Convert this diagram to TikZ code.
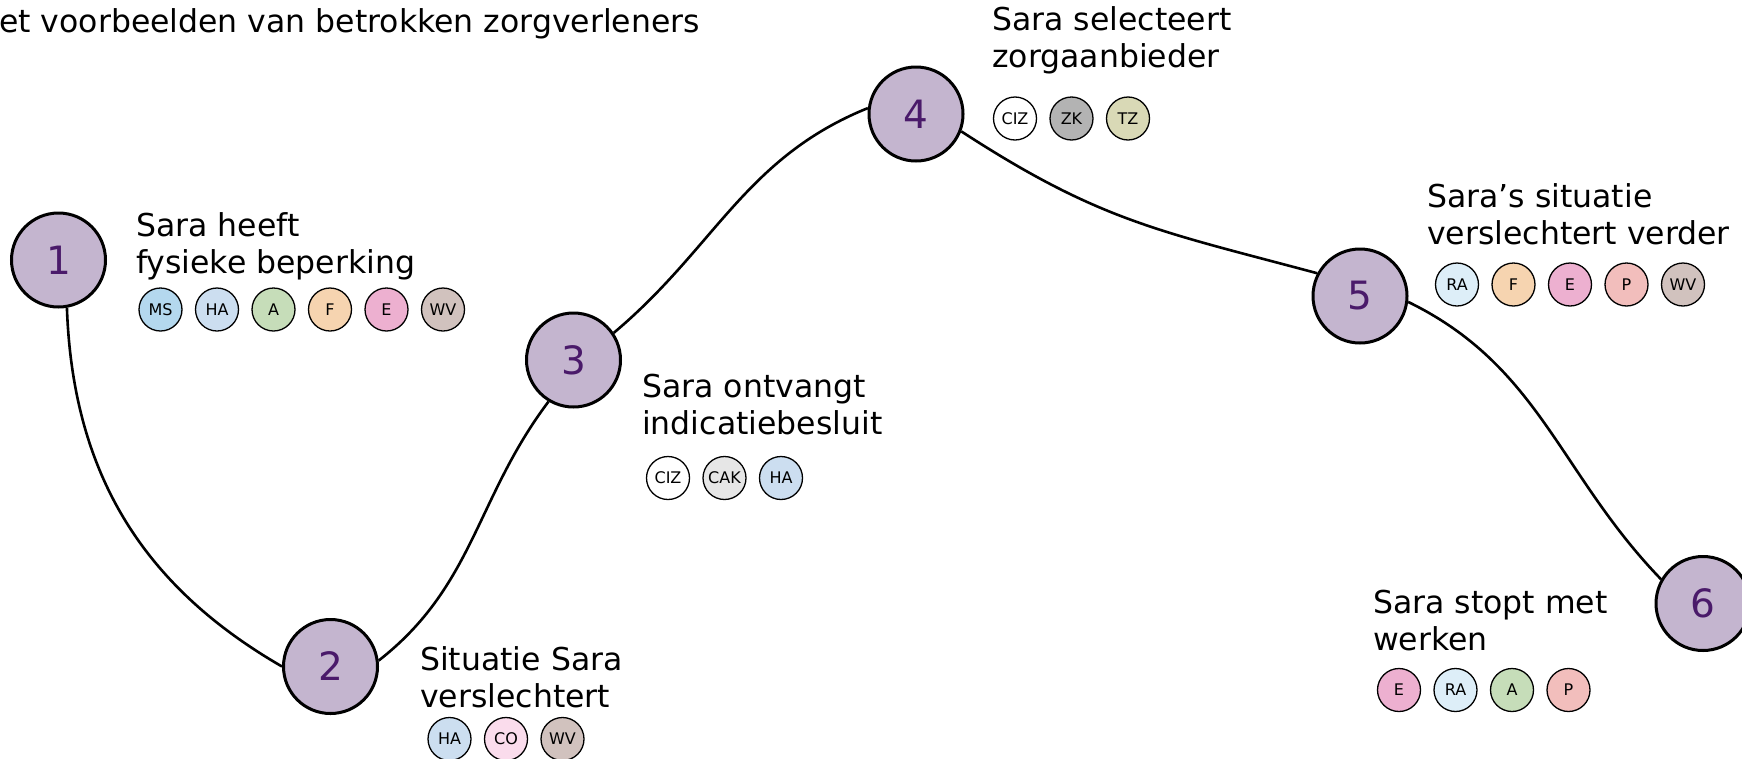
\documentclass[tikz,border=0pt]{standalone}
\usepackage{fontspec}
\setmainfont{DejaVu Sans}
\definecolor{stepfill}{HTML}{C4B5CF}
\definecolor{stepnum}{HTML}{4A1A6A}
\definecolor{cMS}{HTML}{B4D8EE}
\definecolor{cHA}{HTML}{CCDEF0}
\definecolor{cA}{HTML}{C6DDB9}
\definecolor{cF}{HTML}{F6D4B0}
\definecolor{cE}{HTML}{EDB0D0}
\definecolor{cWV}{HTML}{D1C2BE}
\definecolor{cCO}{HTML}{FADCEC}
\definecolor{cCIZ}{HTML}{FFFFFF}
\definecolor{cCAK}{HTML}{E6E6E6}
\definecolor{cZK}{HTML}{B3B3B3}
\definecolor{cTZ}{HTML}{D9D9B6}
\definecolor{cRA}{HTML}{DDEEF8}
\definecolor{cP}{HTML}{F2BEBC}
\tikzset{
  x=1pt,y=1pt,
  stepnode/.style={circle,draw=black,line width=3pt,fill=stepfill,minimum size=94pt,inner sep=0pt,
    text=stepnum,font=\fontsize{39}{39}\selectfont},
  badge/.style={circle,draw=black,line width=1.3pt,minimum size=43pt,inner sep=0pt,
    font=\fontsize{16}{16}\selectfont},
  lbl/.style={anchor=base west,align=left,inner sep=0pt,font=\fontsize{31.5}{37}\selectfont},
  conn/.style={draw=black,line width=2.6pt},
}
\newcommand{\badgerow}[4]{%
  \foreach[count=\i] \c/\t in {#4}
    \node[badge,fill=c\c] (#1-\i) at ({#2+(\i-1)*56.5},#3) {\t};}
\begin{document}
\begin{tikzpicture}
\useasboundingbox (0,0) rectangle (1742,-758);
\clip (0,0) rectangle (1742,-758);
\node[lbl] (title) at (-1,-32) {et voorbeelden van betrokken zorgverleners};
\node[stepnode] (n1) at (58.5,-260) {1};
\node[stepnode] (n2) at (330.5,-666.5) {2};
\node[stepnode] (n3) at (573.5,-360) {3};
\node[stepnode] (n4) at (916,-114) {4};
\node[stepnode] (n5) at (1360,-296) {5};
\node[stepnode] (n6) at (1703,-603.5) {6};
\draw[conn] (n1.-80) to[out=-88,in=150] (n2.180);
\draw[conn] (n2.7) to[out=38,in=233] (n3.239);
\draw[conn] (n3.34) to[out=40,in=202] (n4.173);
\draw[conn] (n4.-21) to[out=-33,in=165,looseness=1.1] (n5.152);
\draw[conn] (n5.-7) to[out=-26,in=134] (n6.150);
\node[lbl] (l1) at (136,-273) {Sara heeft\\fysieke beperking};
\node[lbl] (l2) at (420,-707) {Situatie Sara\\verslechtert};
\node[lbl] (l3) at (642,-434) {Sara ontvangt\\indicatiebesluit};
\node[lbl] (l4) at (992,-67) {Sara selecteert\\zorgaanbieder};
\node[lbl] (l5) at (1427,-244) {Sara’s situatie\\verslechtert verder};
\node[lbl] (l6) at (1373,-650) {Sara stopt met\\werken};
\badgerow{b1}{160.5}{-309.5}{MS/MS,HA/HA,A/A,F/F,E/E,WV/WV}
\badgerow{b2}{449.5}{-739}{HA/HA,CO/CO,WV/WV}
\badgerow{b3}{668}{-478}{CIZ/CIZ,CAK/CAK,HA/HA}
\badgerow{b4}{1015}{-118.5}{CIZ/CIZ,ZK/ZK,TZ/TZ}
\badgerow{b5}{1457}{-284.5}{RA/RA,F/F,E/E,P/P,WV/WV}
\badgerow{b6}{1399}{-690}{E/E,RA/RA,A/A,P/P}
\end{tikzpicture}
\end{document}
